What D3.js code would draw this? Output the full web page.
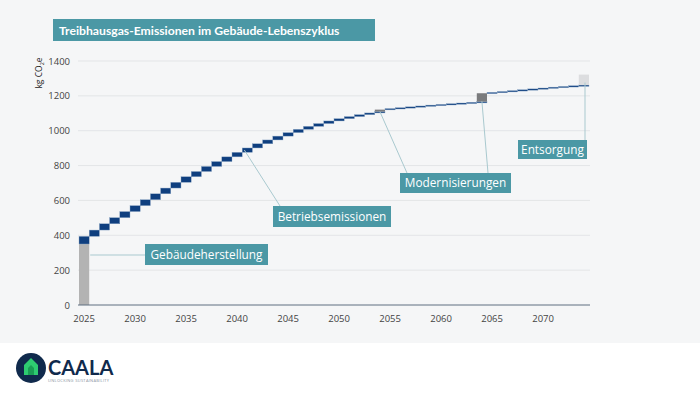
<!DOCTYPE html>
<html lang="de">
<head>
<meta charset="UTF-8">
<title>Treibhausgas-Emissionen im Gebäude-Lebenszyklus</title>
<script src="https://d3js.org/d3.v7.min.js"></script>
<style>
  body { margin: 0; background: #fff; }
  svg { display: block; font-family: "Open Sans", sans-serif; }
</style>
</head>
<body>
<div id="chart"></div>
<script>
// Jahre und jährliche Betriebsemissionen (kg CO2e)
const years = d3.range(2025, 2075);
const betrieb = [44, 36, 36, 35, 35, 34, 34, 34, 33, 33, 32,
                 30, 29, 28, 27, 26, 25, 24, 22, 22, 20,
                 19, 17, 16, 15, 13, 12, 11, 10, 8,
                 6, 5, 5, 5, 5, 4, 4, 4, 4, 4,
                 5, 5, 5, 5, 5, 5, 5, 4, 4, 4];
const herstellung = 350;
const modernYears = [2054, 2064];
const modernValues = [11, 48];
const entsorgungYear = 2074;
const entsorgungValue = 60;
const yTicks = [0, 200, 400, 600, 800, 1000, 1200, 1400];
const xTicks = [2025, 2030, 2035, 2040, 2045, 2050, 2055, 2060, 2065, 2070];

const W = 700, H = 393;
const svg = d3.select("#chart").append("svg").attr("width", W).attr("height", H);

// Hintergrund
svg.append("rect").attr("width", W).attr("height", 343).attr("fill", "#f5f6f7");

const x = d3.scaleBand().domain(years).range([79, 589]).padding(0);
const y = d3.scaleLinear().domain([0, 1400]).range([305, 61]);

// Gitterlinien
svg.append("g").selectAll("line").data(yTicks.slice(1)).join("line")
  .attr("x1", 78).attr("x2", 590)
  .attr("y1", d => y(d)).attr("y2", d => y(d))
  .attr("stroke", "#e3e5e7").attr("stroke-width", 1);

// Wasserfall aufbauen
let cum = herstellung;
const segs = [];
years.forEach((yr, i) => {
  segs.push({ year: yr, y0: cum, y1: cum + betrieb[i], fill: "#0f3f7f" });
  cum += betrieb[i];
  const mi = modernYears.indexOf(yr);
  if (mi >= 0) {
    segs.push({ year: yr, y0: cum, y1: cum + modernValues[mi], fill: "#7a7b7d", mod: true });
    cum += modernValues[mi];
  }
  if (yr === entsorgungYear) {
    segs.push({ year: yr, y0: cum, y1: cum + entsorgungValue, fill: "#dcdddf", mod: true });
    cum += entsorgungValue;
  }
});

// Herstellung
svg.append("rect")
  .attr("x", x(2025)).attr("width", x.bandwidth())
  .attr("y", y(herstellung)).attr("height", y(0) - y(herstellung))
  .attr("fill", "#b3b3b3");

svg.append("g").selectAll("rect").data(segs).join("rect")
  .attr("x", d => x(d.year)).attr("width", x.bandwidth())
  .attr("y", d => y(d.y1)).attr("height", d => Math.max(1.3, y(d.y0) - y(d.y1)))
  .attr("fill", d => d.fill)
  .attr("stroke", d => d.mod ? "none" : "#8ea9c6").attr("stroke-width", 0.4);

// Achsen
svg.append("line").attr("x1", 78).attr("x2", 590).attr("y1", y(0)).attr("y2", y(0))
  .attr("stroke", "#5f6f80").attr("stroke-width", 1);

svg.append("g").selectAll("text").data(yTicks).join("text")
  .attr("x", 70).attr("y", d => y(d) + 3.5)
  .attr("text-anchor", "end").attr("font-size", 9.5).attr("fill", "#444")
  .text(d => d);

svg.append("g").selectAll("text").data(xTicks).join("text")
  .attr("x", d => x(d) + x.bandwidth() / 2).attr("y", 322)
  .attr("text-anchor", "middle").attr("font-size", 9.5).attr("fill", "#444")
  .text(d => d);

const yl = svg.append("text").attr("transform", "translate(42,73) rotate(-90)")
  .attr("text-anchor", "middle").attr("font-size", 8.5).attr("fill", "#222");
yl.append("tspan").text("kg CO");
yl.append("tspan").attr("font-size", 5.5).attr("dy", 2).text("2");
yl.append("tspan").attr("dy", -2).text("e");

// Titel
svg.append("rect").attr("x", 53).attr("y", 19).attr("width", 322).attr("height", 22).attr("fill", "#4b98a5");
svg.append("text").attr("x", 59).attr("y", 34.5).attr("font-size", 12.2).attr("font-weight", "bold")
  .attr("font-family", "Lato, sans-serif").attr("fill", "#fff")
  .text("Treibhausgas-Emissionen im Gebäude-Lebenszyklus");

// Beschriftungen
const cumAt = yr => d3.max(segs.filter(s => s.year === yr), s => s.y1);
const lineCol = "#a9c9cf";
function label(txt, bx, by, bw, bh, lines) {
  lines.forEach(l => svg.append("line")
    .attr("x1", l[0]).attr("y1", l[1]).attr("x2", l[2]).attr("y2", l[3])
    .attr("stroke", lineCol).attr("stroke-width", 1));
  svg.append("rect").attr("x", bx).attr("y", by).attr("width", bw).attr("height", bh).attr("fill", "#4b98a5");
  svg.append("text").attr("x", bx + bw / 2).attr("y", by + bh / 2 + 4.3)
    .attr("text-anchor", "middle").attr("font-size", 11.8).attr("fill", "#fff").text(txt);
}
const cx = yr => x(yr) + x.bandwidth() / 2;
label("Gebäudeherstellung", 145, 244, 123, 21, [[x(2025) + x.bandwidth() + 1, 255, 145, 255]]);
label("Betriebsemissionen", 273, 206, 118, 21, [[cx(2041) - 3, y(cumAt(2041)) + 2, 280, 206]]);
label("Modernisierungen", 400, 173, 111, 20, [
  [cx(2054), y(cumAt(2054)) + 2, 407, 173],
  [cx(2064), y(cumAt(2064)) + 8, 488, 173]]);
label("Entsorgung", 518, 140, 69, 19, [[585, y(cumAt(2074)) + 8, 585, 140]]);

// Logo
const logo = svg.append("g");
logo.append("circle").attr("cx", 31).attr("cy", 368).attr("r", 15).attr("fill", "#102a4c");
logo.append("path").attr("d", "M24,375 L24,365 L31,358 L38,365 L38,375 Z").attr("fill", "#2ecc71");
logo.append("path").attr("d", "M28,375 L28,368 L31,365 L34,368 L34,375 Z").attr("fill", "#1a9e55");
logo.append("text").attr("x", 48).attr("y", 375).attr("font-size", 20).attr("font-weight", "bold")
  .attr("font-family", "Lato, sans-serif").attr("fill", "#102a4c").text("CAALA");
logo.append("text").attr("x", 48).attr("y", 382).attr("font-size", 4).attr("fill", "#8a94a3")
  .attr("letter-spacing", 0.3).text("UNLOCKING SUSTAINABILITY");
</script>
</body>
</html>
